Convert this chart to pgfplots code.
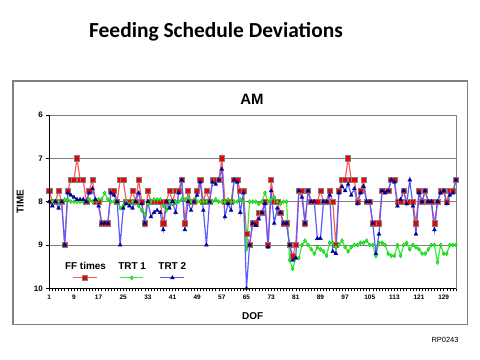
\documentclass[border=0pt]{standalone}
\usepackage{pgfplots}
\usepackage{pgfplotstable}
\pgfplotsset{compat=1.18}
\usepackage{fontspec}
\setmainfont{Liberation Sans}
\newfontfamily\calibri{Carlito}
\definecolor{ffline}{RGB}{255,90,90}
\definecolor{ffmark}{RGB}{240,0,0}
\definecolor{t1line}{RGB}{60,235,60}
\definecolor{t1mark}{RGB}{0,200,0}
\definecolor{t2line}{RGB}{90,90,255}
\definecolor{t2mark}{RGB}{0,0,150}
\definecolor{frame}{RGB}{128,128,128}

\tikzset{legfont/.style={font=\bfseries\fontsize{10}{12}\selectfont, text=black, inner sep=0pt, outer sep=0pt, anchor=base west}}
\pgfplotsset{
  ffleg/.style={legend image code/.code={%
    \draw[mark repeat=2,mark phase=2,##1] plot coordinates {(8.3bp,0bp) (20bp,0bp) (31.7bp,0bp)};
    \node[legfont] at (0bp,8.8bp) {FF times};}},
  t1leg/.style={legend image code/.code={%
    \draw[mark repeat=2,mark phase=2,##1] plot coordinates {(1.7bp,0bp) (13.4bp,0bp) (25bp,0bp)};
    \node[legfont] at (0bp,8.8bp) {TRT 1};}},
  t2leg/.style={legend image code/.code={%
    \draw[mark repeat=2,mark phase=2,##1] plot coordinates {(1.7bp,0bp) (14bp,0bp) (25.7bp,0bp)};
    \node[legfont] at (0bp,8.8bp) {TRT 2};}},
}

\pgfplotstableread{
d ff t1 t2
1 7.75 8 8
2 8 8 8.1
3 8 8 8
4 7.75 8 8.15
5 8 8 8
6 9 7.95 9
7 7.75 7.95 7.8
8 7.5 8 7.85
9 7.5 8 7.9
10 7 8 7.95
11 7.5 8 7.95
12 7.5 8 7.95
13 8 8 8
14 7.75 7.95 7.8
15 7.5 8 7.7
16 8 7.95 7.95
17 8 7.95 8.1
18 8.5 7.95 8.5
19 8.5 7.8 8.5
20 8.5 7.95 8.5
21 7.75 8 7.8
22 7.75 8 7.85
23 8 8 8
24 7.5 8.15 9
25 7.5 8.1 8.15
26 8 8 8.05
27 8 8.05 8.1
28 7.75 8 8.15
29 8 8 8
30 7.5 8.1 7.8
31 8 8.2 8.05
32 8.5 8.3 8.5
33 7.75 8.05 8
34 8 8 8.35
35 8 7.95 8.25
36 8 7.95 8.2
37 8 7.95 8.25
38 8.5 8.1 8.65
39 8 8.2 8
40 7.75 8 8.15
41 8 8.05 8
42 7.75 8 8.25
43 7.75 8 7.8
44 7.5 7.95 7.5
45 8.5 7.95 8.65
46 7.75 7.9 8
47 8 8 8.2
48 8 7.95 8
49 7.75 8 7.85
50 7.5 8 7.55
51 8 8 8.2
52 7.75 8 9
53 8 8 8
54 7.5 8 7.55
55 7.5 7.95 7.6
56 7.5 8 7.5
57 7 8 7.25
58 8 8 8.35
59 8 7.95 8.05
60 8 8 8.2
61 7.5 8 7.5
62 7.5 8 7.55
63 7.75 7.95 8.25
64 7.75 8 7.8
65 8.75 9.1 10
66 9 8 9
67 8.5 8 8.5
68 8.5 8 8.55
69 8.25 8.05 8.4
70 8.25 8 8.25
71 8 7.8 8.05
72 9 8 9.05
73 7.5 7.95 7.75
74 8 7.9 8.5
75 8 8 8.15
76 8.25 8.05 8.25
77 8.5 8 8.5
78 8.5 8 8.5
79 9 9.35 9
80 9.25 9.55 9.35
81 9 9.3 9.3
82 7.75 9.3 7.75
83 7.75 9 7.9
84 8.5 8.9 8.5
85 7.75 9 7.75
86 8 9.1 8
87 8 9.2 8
88 8 9.05 8.85
89 7.75 9.1 8.85
90 8 9.15 8
91 8 9.25 8
92 7.75 8.95 7.85
93 8 8.95 9.15
94 9 9.05 9.2
95 7.75 9 7.8
96 7.5 8.9 7.65
97 7.5 9.05 7.75
98 7 9.15 7.6
99 7.5 9.05 7.85
100 7.5 9 7.7
101 8 9 8.05
102 7.75 8.95 7.8
103 7.5 8.95 7.65
104 8 8.9 8
105 8 9 8
106 8.5 9 8.5
107 8.5 9.25 9.2
108 8.5 8.95 8.75
109 7.75 8.95 7.75
110 7.75 9 7.8
111 7.75 9.2 7.75
112 7.5 9.25 7.5
113 7.5 9.25 7.55
114 8 9 8.1
115 8 9.25 7.95
116 7.75 9 7.75
117 8 8.95 8.05
118 8 9.1 7.5
119 8 9 8.1
120 8.5 9.05 8.75
121 7.75 9.1 7.8
122 8 9.2 8
123 7.75 9.2 7.75
124 8 9.1 8
125 8 9 8
126 8.5 9 8.65
127 8 9.4 8
128 7.75 9 7.8
129 7.75 9.2 7.75
130 8 9.2 8.05
131 7.75 9 7.85
132 7.75 9 7.8
133 7.5 9 7.5
}\datatable

\begin{document}
\begin{tikzpicture}
\path[use as bounding box] (0,0) rectangle (480bp,360bp);
\draw[frame, line width=1.2bp] (13bp,35.5bp) rectangle (467.5bp,279bp);
\node[font=\calibri\bfseries\fontsize{21.5}{24}\selectfont, anchor=base] at (216bp,322bp) {Feeding Schedule Deviations};
\node[font=\bfseries\fontsize{15}{17}\selectfont] at (252bp,261bp) {AM};
\node[font=\fontsize{7.5}{8}\selectfont] at (445bp,20bp) {RP0243};
\begin{axis}[
  at={(49.3bp,71.7bp)}, anchor=south west,
  scale only axis, width=406.7bp, height=173.3bp,
  xmin=1, xmax=133, ymin=6, ymax=10, y dir=reverse,
  ytick={6,7,8,9,10},
  xtick={1,9,...,129},
  minor xtick={1,...,133},
  tick align=outside, xtick pos=bottom, ytick pos=left,
  major tick length=3bp, minor tick length=3bp,
  tick style={black, line width=0.5bp},
  axis line style={frame, line width=0.8bp},
  ymajorgrids, grid style={frame, line width=0.8bp},
  xticklabel style={font=\bfseries\fontsize{6.5}{7}\selectfont},
  yticklabel style={font=\bfseries\fontsize{8}{9}\selectfont},
  /pgf/number format/assume math mode=true,
  xlabel={DOF}, ylabel={TIME},
  xlabel style={font=\bfseries\fontsize{10}{12}\selectfont, at={(axis description cs:0.5,-0.1616)}, anchor=center},
  ylabel style={font=\bfseries\fontsize{10}{12}\selectfont, at={(axis description cs:-0.0713,0.5)}, anchor=center, rotate=0},
  legend columns=3,
  legend style={draw=none, fill=none, inner sep=0pt, outer sep=0pt,
    at={(axis description cs:0.0386,0.0456)}, anchor=south west,
    nodes={inner sep=0pt, outer sep=0pt},
    /tikz/every odd column/.style={column sep=0bp},
    /tikz/every even column/.style={column sep=11.4bp}},
  after end axis/.code={\draw[black, line width=0.8bp] (rel axis cs:0,1) -- (rel axis cs:0,0) -- (rel axis cs:1,0);},
]
\addplot[ffline, line width=1.2bp, mark=square*, mark size=2.6bp, mark options={fill=ffmark, draw=frame, line width=0.6bp}, ffleg] table[x=d, y=ff] {\datatable};
\addplot[t1line, line width=1.2bp, mark=diamond*, mark size=2bp, mark options={fill=t1line, draw=t1mark, line width=0.4bp}, t1leg] table[x=d, y=t1] {\datatable};
\addplot[t2line, line width=1.2bp, mark=triangle*, mark size=2.3bp, mark options={fill=t2mark, draw=t2mark, line width=0.3bp}, t2leg] table[x=d, y=t2] {\datatable};
\legend{\mbox{},\mbox{},\mbox{}}
\end{axis}
\end{tikzpicture}
\end{document}
